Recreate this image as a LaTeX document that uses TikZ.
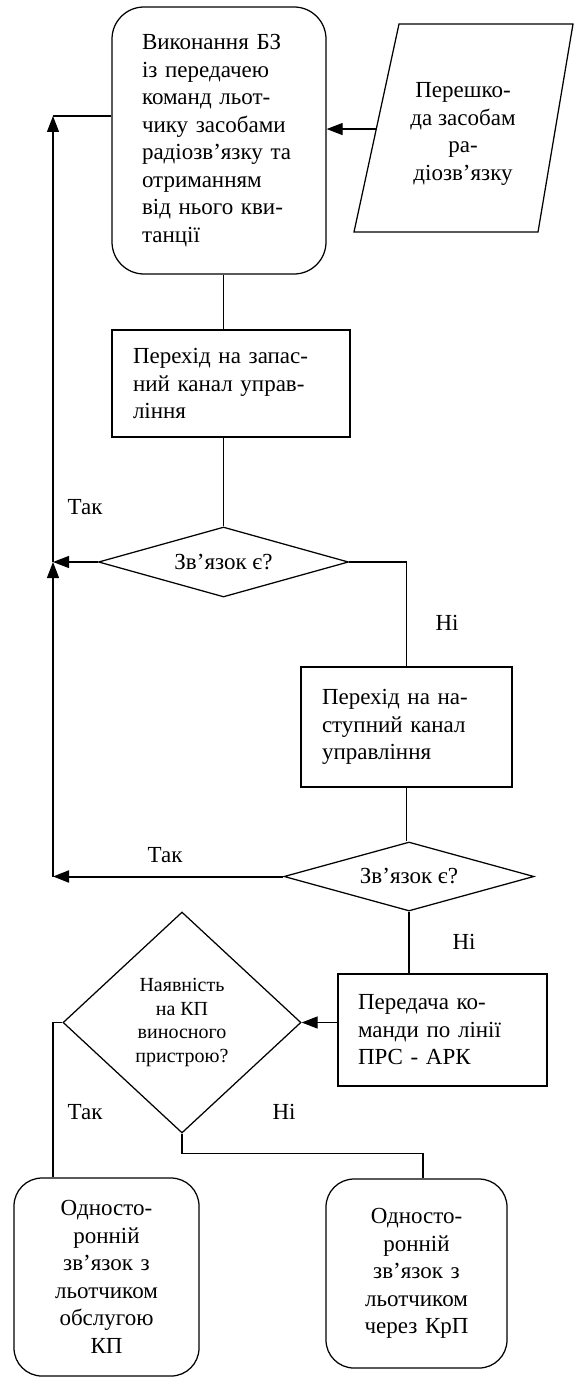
\documentclass[tikz,border=0pt]{standalone}
\usepackage{fontspec}
\setmainfont{Liberation Serif}
\usetikzlibrary{shapes.geometric,arrows.meta,calc}
\begin{document}
\begin{tikzpicture}[x=1pt,y=-1pt,
  every node/.style={font=\fontsize{23}{27.5}\selectfont},
  shp/.style={draw,line width=1.25pt},
  proc/.style={shp,rectangle,inner ysep=0pt,align=left},
  term/.style={shp,rectangle,rounded corners=28pt,inner ysep=0pt},
  decis/.style={shp,diamond,inner sep=0pt,aspect=3.5,align=center},
  conn/.style={line width=1.25pt},
  arr/.style={conn,-{Triangle[length=16pt,width=12pt]}},
  lbl/.style={inner sep=0pt}
]
\useasboundingbox (0,0) rectangle (573,1378);

% nodes
\node[term,align=left,text width=154pt,inner xsep=30pt,minimum height=267pt,rounded corners=32pt] (box1) at (219,140.5)
  {Виконання БЗ\\із передачею\\команд льот-\\чику засобами\\радіозв’язку та\\отриманням\\від нього кви-\\танції};

\coordinate (ptl) at (399,24);
\coordinate (ptr) at (573,24);
\coordinate (pbr) at (538,232);
\coordinate (pbl) at (354,232);
\draw[shp] (ptl) -- (ptr) -- (pbr) -- (pbl) -- cycle;
\node[align=center,inner sep=0pt] (obst) at (463,134) {Перешко-\\да засобам\\ра-\\діозв’язку};

\node[proc,text width=196pt,inner xsep=21pt,minimum height=107pt] (rect1) at (231,383.5)
  {Перехід на запас-\\ний канал управ-\\ління};
\node[decis,minimum width=250pt,minimum height=70pt] (d1) at (223.5,562) {Зв’язок є?};
\node[proc,text width=169pt,inner xsep=21pt,minimum height=120pt] (rect2) at (406.5,727)
  {Перехід на на-\\ступний канал\\управління};
\node[decis,minimum width=250pt,minimum height=69pt] (d2) at (409,876.5) {Зв’язок є?};
\node[proc,text width=169pt,inner xsep=20pt,minimum height=112pt] (rect3) at (442.5,1030)
  {Передача ко-\\манди по лінії\\ПРС - АРК};
\node[decis,aspect=1,minimum width=238pt,minimum height=221pt,font=\fontsize{20}{23.5}\selectfont] (d3) at (182,1022.5)
  {Наявність\\на КП\\виносного\\пристрою?};
\node[term,align=center,text width=165pt,inner xsep=10pt,minimum height=198pt] (box4) at (106.5,1277)
  {Односто-\\ронній\\зв’язок з\\льотчиком\\обслугою\\КП};
\node[term,align=center,text width=161pt,inner xsep=10pt,minimum height=189pt] (box5) at (416.5,1273.5)
  {Односто-\\ронній\\зв’язок з\\льотчиком\\через КрП};

% labels
\node[lbl] (tak1) at (85,507) {Так};
\node[lbl] (ni1) at (447,623) {Ні};
\node[lbl] (tak2) at (165,855) {Так};
\node[lbl] (ni2) at (464,942) {Ні};
\node[lbl] (tak3) at (85,1112) {Так};
\node[lbl] (ni3) at (284,1112) {Ні};

% left return line
\coordinate (L1) at (53,116);
\coordinate (L2) at (d1.west -| L1);
\coordinate (L3) at (d2.west -| L1);

% connectors
\coordinate (pin) at ($(pbl)!0.495!(ptl)$);
\draw[arr] (pin) -- (pin -| box1.east);
\draw[conn] (box1.west |- L1) -- (L1);
\draw[arr] (L2) -- (L1);
\draw[arr] (L3) -- (L2);
\draw[conn] (d1.north |- box1.south) -- (d1.north |- rect1.north);
\draw[conn] (d1.north |- rect1.south) -- (d1.north);
\draw[arr] (d1.west) -- (L2);
\draw[conn] (d1.east) -| (rect2.north);
\draw[conn] (rect2.south) -- (rect2.south |- d2.north);
\draw[arr,line width=2pt] (d2.west) -- (L3);
\draw[conn] (d2.south) -- (d2.south |- rect3.north);
\draw[arr] (rect3.west |- d3.east) -- (d3.east);
\draw[conn] (d3.west) -- (d3.west -| L1) -- (box4.north -| L1);
\draw[conn] (d3.south) -- ++(0,19.5) -| ([xshift=6.5pt]box5.north);
\end{tikzpicture}
\end{document}
